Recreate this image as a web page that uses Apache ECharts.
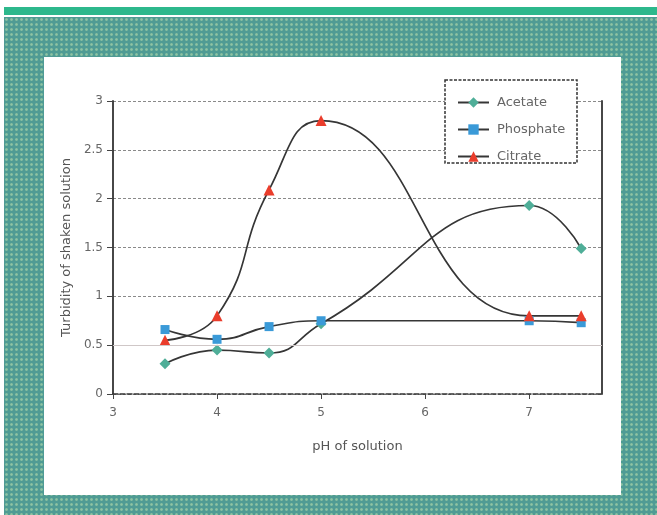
<!DOCTYPE html>
<html>
<head>
<meta charset="utf-8">
<script src="https://cdn.jsdelivr.net/npm/echarts@6/dist/echarts.min.js"></script>
<style>
  html, body { margin: 0; padding: 0; background: #ffffff; }
  #wrap { position: relative; width: 657px; height: 515px; overflow: hidden; background: #ffffff; }
  #bar { position: absolute; left: 4px; top: 7px; width: 653px; height: 8px; background: #2db88c; }
  #frame { position: absolute; left: 4px; top: 17px; width: 653px; height: 498px;
           background-color: #4f9b94;
           background-image: radial-gradient(circle, #8fc4a2 0.8px, rgba(143,196,162,0) 1.8px);
           background-size: 5px 5px; }
  #panel { position: absolute; left: 44px; top: 57px; width: 577px; height: 438px; background: #ffffff; }
  #chart { position: absolute; left: 0; top: 0; width: 657px; height: 515px; }
</style>
</head>
<body>
<div id="wrap">
  <div id="bar"></div>
  <div id="frame"></div>
  <div id="panel"></div>
  <div id="chart"></div>
</div>
<script>
// ---- data ----
var seriesNames = ['Acetate', 'Phosphate', 'Citrate'];
var phValues = [3.5, 4, 4.5, 5, 7, 7.5];
var acetate   = [0.31, 0.45, 0.42, 0.72, 1.93, 1.49];
var phosphate = [0.66, 0.56, 0.69, 0.75, 0.75, 0.73];
var citrate   = [0.55, 0.80, 2.09, 2.80, 0.80, 0.80];
var xTicks = [3, 4, 5, 6, 7];
var yTicks = [0, 0.5, 1, 1.5, 2, 2.5, 3];

function pairs(xs, ys) { return xs.map(function (x, i) { return [x, ys[i]]; }); }

var chart = echarts.init(document.getElementById('chart'), null, { renderer: 'canvas' });
var font = 'DejaVu Sans';
var lineCol = '#363636';

var option = {
  backgroundColor: 'transparent',
  animation: false,
  grid: { left: 113, top: 101, width: 489, height: 293, containLabel: false },
  xAxis: {
    type: 'value', min: 3, max: 7.7, interval: 1,
    name: 'pH of solution', nameLocation: 'middle', nameGap: 46,
    nameTextStyle: { fontFamily: font, fontSize: 13, color: '#555' },
    axisLine: { show: true, onZero: false, lineStyle: { color: '#333', width: 1.5, type: [5, 2] } },
    axisTick: { show: true, inside: false, length: 5, lineStyle: { color: '#444' } },
    axisLabel: { fontFamily: font, fontSize: 12, color: '#666', margin: 13, showMaxLabel: false,
      formatter: function (v) { return xTicks.indexOf(v) >= 0 ? String(v) : ''; } },
    splitLine: { show: false }
  },
  yAxis: [{
    type: 'value', min: 0, max: 3, interval: 0.5,
    name: 'Turbidity of shaken solution', nameLocation: 'middle', nameGap: 32, nameRotate: 90,
    nameTextStyle: { fontFamily: font, fontSize: 13, color: '#555', padding: [0, 0, 0, 0] },
    axisLine: { show: true, lineStyle: { color: '#333', width: 1.8 } },
    axisTick: { show: true, inside: false, length: 6, lineStyle: { color: '#444' } },
    axisLabel: { fontFamily: font, fontSize: 12, color: '#666', margin: 10,
      formatter: function (v) { return yTicks.indexOf(v) >= 0 ? String(v) : ''; } },
    splitLine: { show: true, lineStyle: { color: '#8a8a8a', width: 1, type: [3, 2] } }
  }, {
    type: 'value', min: 0, max: 3, interval: 0.5, position: 'right',
    axisLine: { show: true, lineStyle: { color: '#333', width: 1.8 } },
    axisTick: { show: false }, axisLabel: { show: false }, splitLine: { show: false }
  }],
  legend: {
    orient: 'vertical', left: 452, top: 91,
    itemWidth: 31, itemHeight: 13, itemGap: 14,
    textStyle: { fontFamily: font, fontSize: 13, color: '#666', padding: [0, 0, 0, 3] },
    data: seriesNames
  },
  graphic: [{
    type: 'rect', z: 3, silent: true,
    shape: { x: 445, y: 80, width: 132, height: 83 },
    style: { fill: '#ffffff', stroke: '#333', lineWidth: 1.5, lineDash: [3, 1.5] }
  }],
  series: [
    {
      name: seriesNames[0], type: 'line', smooth: 0.5, data: pairs(phValues, acetate),
      symbol: 'diamond', symbolSize: 11,
      lineStyle: { color: lineCol, width: 1.7 },
      itemStyle: { color: '#4fae98' },
      markLine: {
        silent: true, symbol: 'none', label: { show: false },
        lineStyle: { color: '#cfc7c7', type: 'solid', width: 1 },
        data: [{ yAxis: 0.5 }]
      }
    },
    {
      name: seriesNames[1], type: 'line', smooth: 0.5, data: pairs(phValues, phosphate),
      symbol: 'rect', symbolSize: 9,
      lineStyle: { color: lineCol, width: 1.7 },
      itemStyle: { color: '#3a9ad8' }
    },
    {
      name: seriesNames[2], type: 'line', smooth: 0.5, data: pairs(phValues, citrate),
      symbol: 'triangle', symbolSize: 11,
      lineStyle: { color: lineCol, width: 1.7 },
      itemStyle: { color: '#ea3d2c' }
    }
  ]
};
chart.setOption(option);
</script>
</body>
</html>
